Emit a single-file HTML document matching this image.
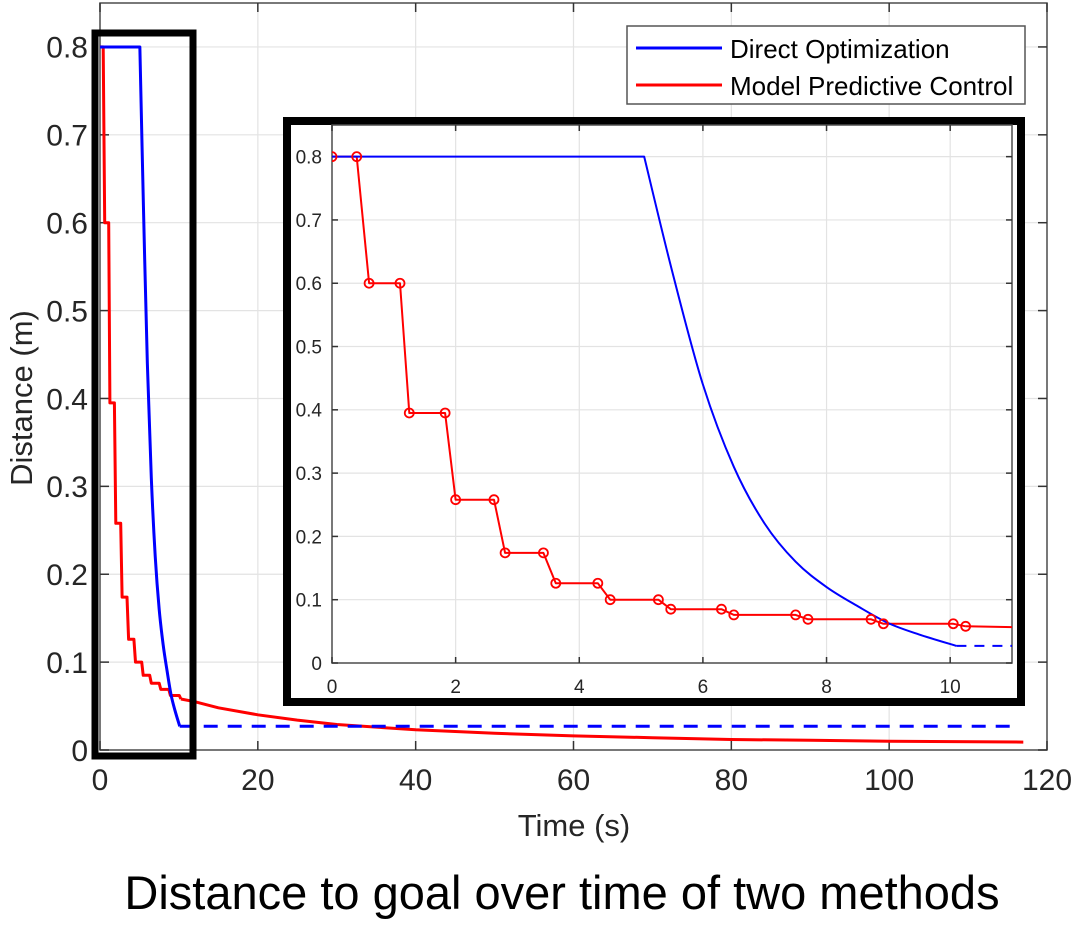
<!DOCTYPE html>
<html><head><meta charset="utf-8"><style>
body{margin:0;background:#fff;}
svg{display:block;font-family:"Liberation Sans",Arial,sans-serif;}
</style></head><body>
<svg id="chart" width="1083" height="949" viewBox="0 0 1083 949"></svg>
<script>
// main chart data
const mainXTicks=[0,20,40,60,80,100,120];
const mainYTicks=[0,0.1,0.2,0.3,0.4,0.5,0.6,0.7,0.8];
const insetXTicks=[0,2,4,6,8,10];
const insetYTicks=[0,0.1,0.2,0.3,0.4,0.5,0.6,0.7,0.8];
// Direct Optimization (solid part)
const doT=[0,5.05,5.5,6,6.5,7,7.5,8,8.5,9,9.5,10.1];
const doV=[0.8,0.8,0.62,0.44,0.31,0.22,0.16,0.12,0.09,0.063,0.045,0.027];
// Direct Optimization hold (dashed)
const doHoldT=[10.1,116.2];
const doHoldV=[0.027,0.027];
// MPC samples (markers)
const mpcT=[0,0.4,0.6,1.1,1.25,1.83,2.0,2.62,2.8,3.42,3.62,4.3,4.5,5.28,5.48,6.3,6.5,7.5,7.7,8.72,8.92,10.05,10.25];
const mpcV=[0.8,0.8,0.6,0.6,0.395,0.395,0.258,0.258,0.174,0.174,0.126,0.126,0.1,0.1,0.085,0.085,0.076,0.076,0.069,0.069,0.062,0.062,0.058];
// MPC long tail
const tailT=[10.25,12,15,20,25,30,40,50,60,70,80,90,100,117];
const tailV=[0.058,0.055,0.048,0.040,0.034,0.029,0.023,0.019,0.016,0.014,0.012,0.011,0.010,0.009];

const NS="http://www.w3.org/2000/svg";
const svg=document.getElementById('chart');
function mk(tag,attrs,parent){const e=document.createElementNS(NS,tag);for(const k in attrs)e.setAttribute(k,attrs[k]);(parent||svg).appendChild(e);return e;}
function makeAxes(L,T,R,B,xmax,ymax){return{x:v=>L+v/xmax*(R-L),y:v=>B-v/ymax*(B-T),L,T,R,B};}
const M=makeAxes(100,3,1047,750,120,0.85);
const I=makeAxes(332,125,1012,663,11,0.85);

function drawAxes(A,xt,yt,fs,tickLen,prefix,xlabOff,ylabOff){
  const g=mk('g',{});
  
  
  mk('rect',{x:A.L,y:A.T,width:A.R-A.L,height:A.B-A.T,fill:'#fff'},g);
  xt.forEach(v=>{const l=mk('line',{x1:A.x(v),x2:A.x(v),y1:A.T,y2:A.B,stroke:'#e3e3e3','stroke-width':1.2},g);
    });
  yt.forEach(v=>{const l=mk('line',{x1:A.L,x2:A.R,y1:A.y(v),y2:A.y(v),stroke:'#e3e3e3','stroke-width':1.2},g);
    });
  mk('rect',{x:A.L,y:A.T,width:A.R-A.L,height:A.B-A.T,fill:'none',stroke:'#4d4d4d','stroke-width':1.5},g);
  xt.forEach(v=>{mk('line',{x1:A.x(v),x2:A.x(v),y1:A.B,y2:A.B-tickLen,stroke:'#333','stroke-width':1.5},g);
    mk('line',{x1:A.x(v),x2:A.x(v),y1:A.T,y2:A.T+tickLen,stroke:'#333','stroke-width':1.5},g);
    const t=mk('text',{x:A.x(v),y:A.B+xlabOff,'font-size':fs,fill:'#262626','text-anchor':'middle'},g);t.textContent=String(v);
    });
  yt.forEach(v=>{mk('line',{x1:A.L,x2:A.L+tickLen,y1:A.y(v),y2:A.y(v),stroke:'#333','stroke-width':1.5},g);
    mk('line',{x1:A.R,x2:A.R-tickLen,y1:A.y(v),y2:A.y(v),stroke:'#333','stroke-width':1.5},g);
    const t=mk('text',{x:A.L-ylabOff,y:A.y(v)+fs*0.36,'font-size':fs,fill:'#262626','text-anchor':'end'},g);t.textContent=String(v);
    });
  return g;
}
function pts(A,ts,vs){return ts.map((t,i)=>A.x(t).toFixed(1)+','+A.y(vs[i]).toFixed(1)).join(' ');}
function line(A,ts,vs,color,w,dash,name,parent){const p=mk('polyline',{points:pts(A,ts,vs),fill:'none',stroke:color,'stroke-width':w,'stroke-linejoin':'round'},parent);
  if(dash)p.setAttribute('stroke-dasharray',dash);
  return p;}
function smooth(A,ts,vs,color,w,name,parent){
  // straight first segment, Catmull-Rom for the decay
  const P=ts.map((t,i)=>[A.x(t),A.y(vs[i])]);
  let d='M'+P[0][0]+','+P[0][1]+' L'+P[1][0]+','+P[1][1];
  for(let i=1;i<P.length-1;i++){
    const p0=P[i===1?1:i-1],p1=P[i],p2=P[i+1],p3=P[Math.min(i+2,P.length-1)];
    const c1=[p1[0]+(p2[0]-p0[0])/6,p1[1]+(p2[1]-p0[1])/6];
    const c2=[p2[0]-(p3[0]-p1[0])/6,p2[1]-(p3[1]-p1[1])/6];
    d+=' C'+c1.join(',')+' '+c2.join(',')+' '+p2.join(',');
  }
  const p=mk('path',{d:d,fill:'none',stroke:color,'stroke-width':w,'stroke-linejoin':'round'},parent);
  return p;}

drawAxes(M,mainXTicks,mainYTicks,30,9,'main',40,12);
line(M,tailT,tailV,'#ff0000',3,null,'main-mpc-tail-line');
line(M,mpcT,mpcV,'#ff0000',3,null,'main-mpc-line');
line(M,doHoldT,doHoldV,'#0000ff',3,'14,10','main-direct-opt-hold-line');
smooth(M,doT,doV,'#0000ff',3,'main-direct-opt-line');

// highlight box
const hb=mk('rect',{x:95,y:33,width:98,height:723,fill:'none',stroke:'#000','stroke-width':7});


// axis labels
let t=mk('text',{x:574,y:836,'font-size':31,fill:'#262626','text-anchor':'middle'});t.textContent='Time (s)';

t=mk('text',{x:0,y:0,'font-size':31,fill:'#262626','text-anchor':'middle',transform:'translate(32,398) rotate(-90)'});t.textContent='Distance (m)';

t=mk('text',{x:562,y:909,'font-size':47,fill:'#000','text-anchor':'middle'});t.textContent='Distance to goal over time of two methods';


// legend
const lg=mk('g',{});

mk('rect',{x:627,y:26,width:398,height:78,fill:'#fff',stroke:'#555','stroke-width':1.5},lg);
mk('line',{x1:636,x2:722,y1:48,y2:48,stroke:'#0000ff','stroke-width':3},lg);
mk('line',{x1:636,x2:722,y1:85,y2:85,stroke:'#ff0000','stroke-width':3},lg);
t=mk('text',{x:730,y:58,'font-size':26,fill:'#000'},lg);t.textContent='Direct Optimization';

t=mk('text',{x:730,y:95,'font-size':26,fill:'#000'},lg);t.textContent='Model Predictive Control';


// inset
const ob=mk('rect',{x:287,y:121,width:734,height:581,fill:'#fff',stroke:'#000','stroke-width':8});

drawAxes(I,insetXTicks,insetYTicks,19,6,'inset',30,10);
const clip=mk('clipPath',{id:'ic'});mk('rect',{x:I.L,y:I.T-5,width:I.R-I.L,height:I.B-I.T+10},clip);
const ig=mk('g',{'clip-path':'url(#ic)'});

line(I,tailT,tailV,'#ff0000',2,null,'inset-mpc-tail-line',ig);
line(I,mpcT,mpcV,'#ff0000',2,null,'inset-mpc-line',ig);
line(I,doHoldT,doHoldV,'#0000ff',2,'10,8','inset-direct-opt-hold-line',ig);
smooth(I,doT,doV,'#0000ff',2,'inset-direct-opt-line',ig);
mpcT.forEach((tt,i)=>{const c=mk('circle',{cx:I.x(tt),cy:I.y(mpcV[i]),r:4.5,fill:'none',stroke:'#ff0000','stroke-width':1.8},ig);
  
  });
</script>
</body></html>
